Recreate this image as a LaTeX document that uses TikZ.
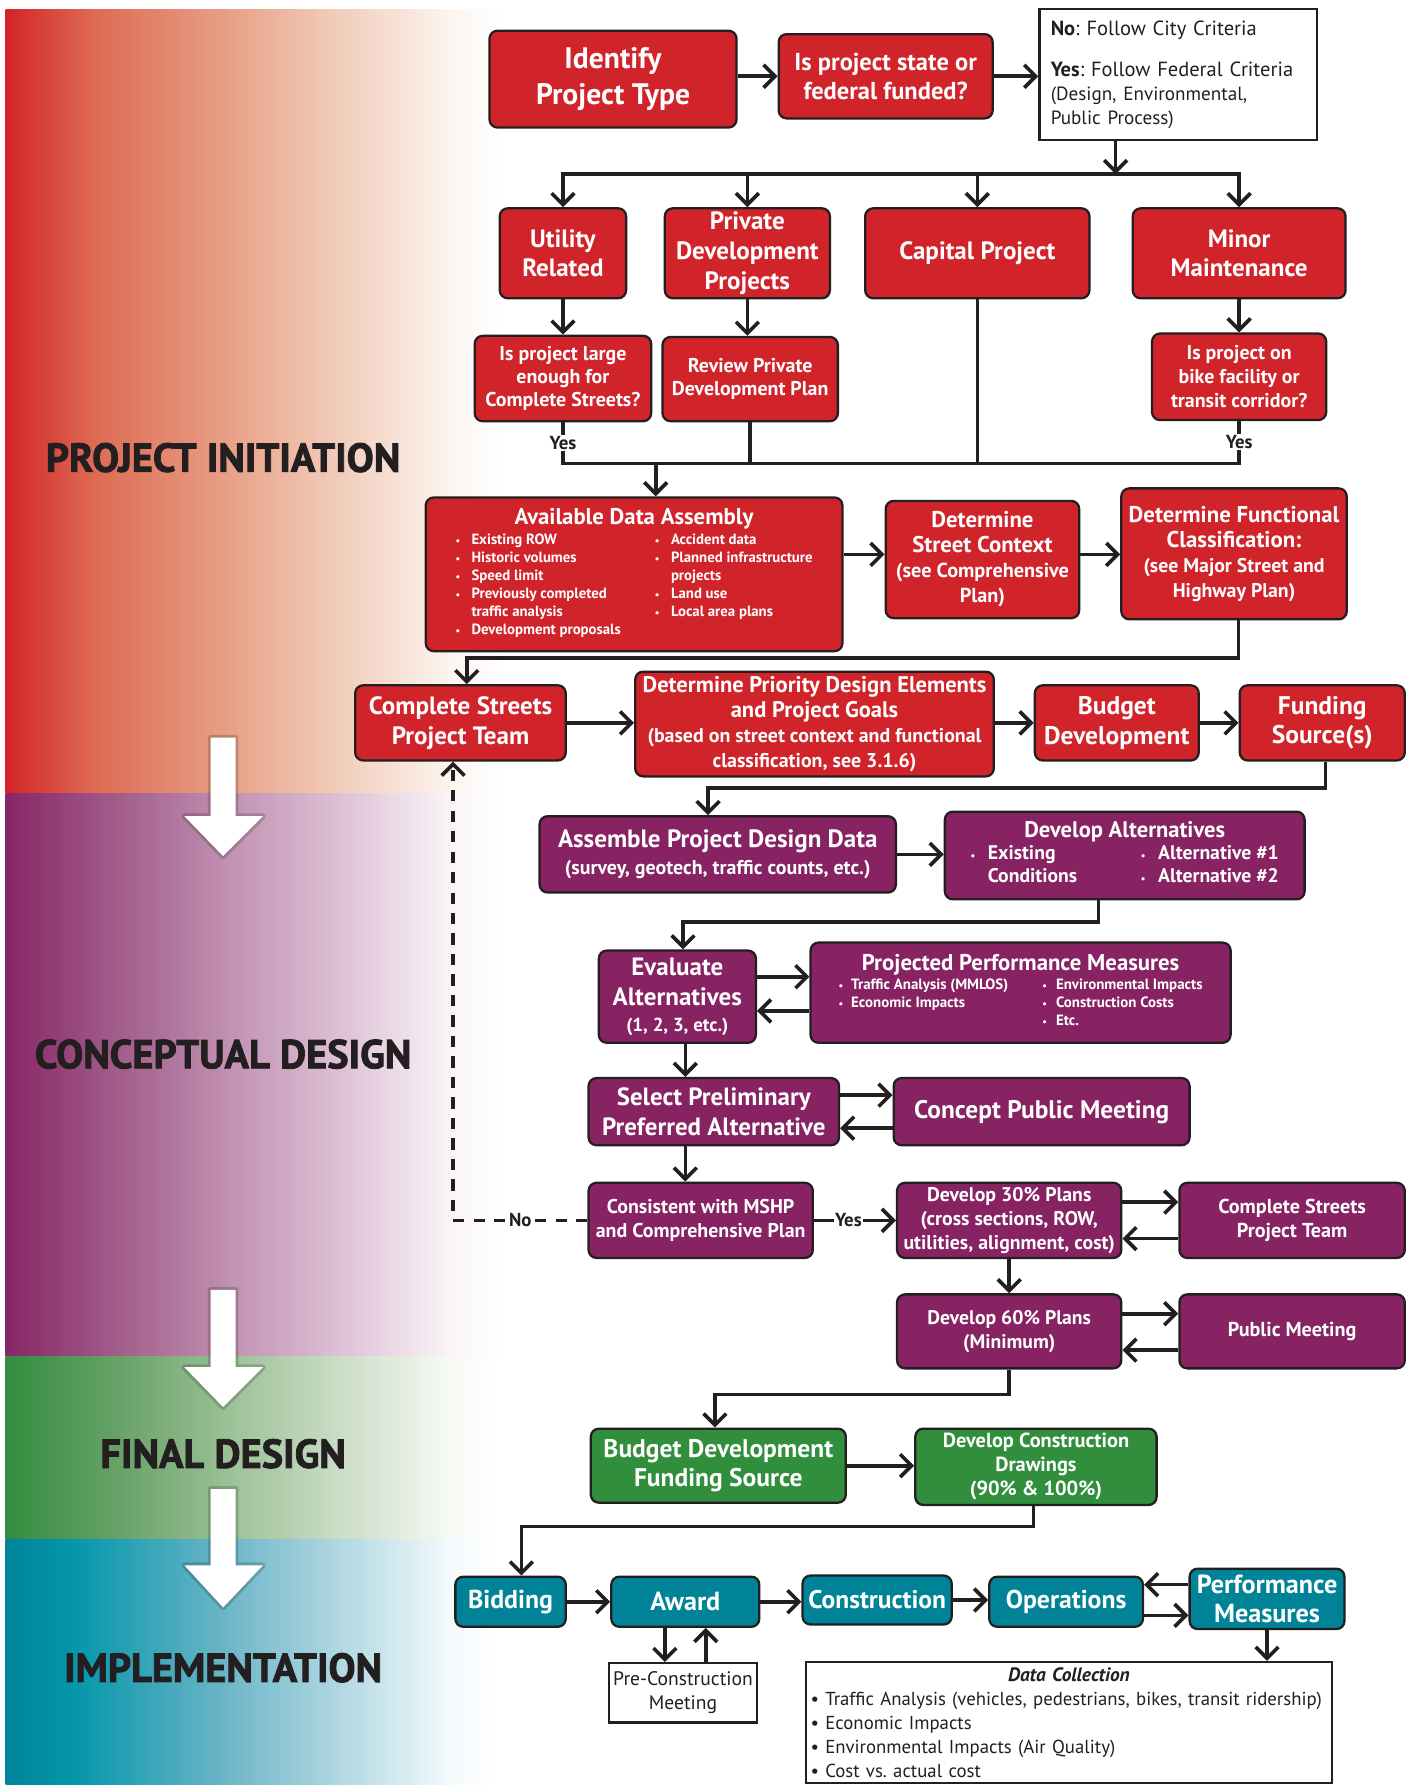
\documentclass[tikz,border=0pt]{standalone}
\usepackage{fontspec}
\setmainfont{PT Sans}
\newfontfamily\stagefont[BoldFeatures={FakeBold=2}]{PT Sans}
\usetikzlibrary{arrows.meta}
\frenchspacing

\definecolor{pired}{RGB}{209,35,42}
\definecolor{cdpurple}{RGB}{135,35,98}
\definecolor{fdgreen}{RGB}{49,142,60}
\definecolor{imteal}{RGB}{0,131,150}
\definecolor{edge}{RGB}{35,31,32}

\pgfdeclarehorizontalshading{redband}{100bp}{rgb(0bp)=(0.83,0.14,0.16); rgb(25bp)=(0.83,0.14,0.16); rgb(34bp)=(0.87,0.42,0.33); rgb(47bp)=(0.91,0.62,0.52); rgb(59bp)=(0.95,0.81,0.74); rgb(70bp)=(0.99,0.96,0.94); rgb(75bp)=(1,1,1); rgb(100bp)=(1,1,1)}
\pgfdeclarehorizontalshading{purpleband}{100bp}{rgb(0bp)=(0.53,0.15,0.40); rgb(25bp)=(0.53,0.15,0.40); rgb(36bp)=(0.63,0.36,0.54); rgb(47bp)=(0.75,0.56,0.69); rgb(59bp)=(0.87,0.76,0.84); rgb(70bp)=(0.98,0.96,0.97); rgb(75bp)=(1,1,1); rgb(100bp)=(1,1,1)}
\pgfdeclarehorizontalshading{greenband}{100bp}{rgb(0bp)=(0.20,0.55,0.25); rgb(25bp)=(0.20,0.55,0.25); rgb(36bp)=(0.40,0.63,0.40); rgb(47bp)=(0.60,0.75,0.58); rgb(59bp)=(0.80,0.87,0.78); rgb(70bp)=(0.97,0.98,0.96); rgb(75bp)=(1,1,1); rgb(100bp)=(1,1,1)}
\pgfdeclarehorizontalshading{tealband}{100bp}{rgb(0bp)=(0.0,0.52,0.60); rgb(25bp)=(0.0,0.52,0.60); rgb(32bp)=(0.02,0.59,0.67); rgb(47bp)=(0.42,0.71,0.78); rgb(59bp)=(0.70,0.85,0.89); rgb(70bp)=(0.96,0.98,0.99); rgb(75bp)=(1,1,1); rgb(100bp)=(1,1,1)}

\newcommand{\fs}[2]{\fontsize{#1}{#2}\selectfont}
\newcommand{\bl}{{\fs{9}{9}\textbullet}}

\begin{document}
\begin{tikzpicture}[x=1pt, y=-1pt,
    box/.style={draw=edge, line width=2pt, rounded corners=7pt, align=center, text=white, inner sep=2pt},
    pibox/.style={box, fill=pired},
    cdbox/.style={box, fill=cdpurple},
    fdbox/.style={box, fill=fdgreen},
    imbox/.style={box, fill=imteal},
    wbox/.style={draw=edge, line width=2pt, fill=white, align=center, text=edge, inner sep=2pt},
    dims/.style 2 args={minimum width=#1, minimum height=#2},
    fnt/.style 2 args={font=\fs{#1}{#2}\bfseries},
    conn/.style={draw=edge, line width=3.2pt},
    arr/.style={conn, -{Straight Barb[length=10pt, width=20pt]}},
    lbl/.style={font=\fs{16.5}{16.5}\bfseries, text=edge, fill=white, inner sep=1pt},
    stage/.style={font=\stagefont\fs{35.5}{36}\bfseries, text=edge}]
    \useasboundingbox (0,0) rectangle (1240,1568);

    % phase bands
    \shade[shading=redband] (5,8) rectangle (440,697);
    \shade[shading=purpleband] (5,697) rectangle (440,1192);
    \shade[shading=greenband] (5,1192) rectangle (440,1352);
    \shade[shading=tealband] (5,1352) rectangle (440,1568);

    \foreach \ya/\yb/\yc in {648/717/752, 1133/1201/1236, 1308/1375/1412}{
        \draw[black, opacity=.18, line width=5pt, line join=round] (185,\ya) -- (207,\ya) -- (207,\yb) -- (231,\yb) -- (196,\yc) -- (162,\yb) -- (185,\yb) -- cycle;
        \fill[white] (185,\ya) -- (207,\ya) -- (207,\yb) -- (231,\yb) -- (196,\yc) -- (162,\yb) -- (185,\yb) -- cycle;
    }

    \node[stage] (tpi) at (196,402) {PROJECT INITIATION};
    \node[stage] (tcd) at (196,926) {CONCEPTUAL DESIGN};
    \node[stage] (tfd) at (196,1277) {FINAL DESIGN};
    \node[stage] (tim) at (196,1465) {IMPLEMENTATION};

    % project initiation
    \node[pibox, dims={217}{85}, fnt={26}{31}] (idt) at (538.5,69.5) {Identify\\Project Type};
    \node[pibox, dims={188}{74}, fnt={21.5}{26}] (fund) at (778,67) {Is project state or\\federal funded?};
    \node[wbox, dims={244}{115}, text width=224, align=left, font=\fs{18}{21}] (crit) at (1035,65.5)
        {\textbf{No}: Follow City Criteria\\[15pt]\textbf{Yes}: Follow Federal Criteria\\{\fs{16.8}{20}(Design, Environmental,}\\{\fs{16.8}{20}Public Process)}};

    \node[pibox, dims={111}{79}, fnt={22}{26}] (util) at (494.5,222.5) {Utility\\Related};
    \node[pibox, dims={145}{79}, fnt={22}{26}] (priv) at (656.5,222.5) {Private\\Development\\Projects};
    \node[pibox, dims={197}{79}, fnt={22}{26}] (cap) at (858.5,222.5) {Capital Project};
    \node[pibox, dims={187}{79}, fnt={22}{26}] (minor) at (1088.5,222.5) {Minor\\Maintenance};

    \node[pibox, dims={155}{75}, fnt={17.5}{20.5}] (large) at (494.5,332.5) {Is project large\\enough for\\Complete Streets?};
    \node[pibox, dims={154}{74}, fnt={17.5}{20}] (review) at (659,333) {Review Private\\Development Plan};
    \node[pibox, dims={153}{76}, fnt={17.5}{21}] (bike) at (1088.5,331) {Is project on\\bike facility or\\transit corridor?};

    \node[pibox, dims={366}{135}, fnt={13}{15.8}] (ada) at (557,504.5)
        {{\fs{20}{22}Available Data Assembly}\\[1pt]
        \begin{tabular}{@{}l@{\hspace{10pt}}l@{\hspace{30pt}}l@{\hspace{10pt}}l@{}}
        \bl & Existing ROW & \bl & Accident data\\
        \bl & Historic volumes & \bl & Planned infrastructure\\
        \bl & Speed limit & & projects\\
        \bl & Previously completed & \bl & Land use\\
        & traffic analysis & \bl & Local area plans\\
        \bl & Development proposals & &
        \end{tabular}};
    \node[pibox, dims={170}{103}, fnt={20}{22}] (dsc) at (863,491.5) {Determine\\Street Context\\{\fs{17.8}{22}(see Comprehensive}\\{\fs{17.8}{22}Plan)}};
    \node[pibox, dims={198}{115}, fnt={20}{22}] (dfc) at (1084,486.5) {Determine Functional\\Classification:\\{\fs{17.4}{22}(see Major Street and}\\{\fs{17.4}{22}Highway Plan)}};

    \node[pibox, dims={185}{66}, fnt={22}{26}] (cst) at (404.5,635) {Complete Streets\\Project Team};
    \node[pibox, dims={315}{92}, fnt={19.8}{22}] (dpd) at (715.5,636) {Determine Priority Design Elements\\and Project Goals\\{\fs{17.5}{22}(based on street context and functional}\\{\fs{17.5}{22}classification, see 3.1.6)}};
    \node[pibox, dims={144}{66}, fnt={22.4}{26}] (bud) at (981,635) {Budget\\Development};
    \node[pibox, dims={145}{66}, fnt={22.4}{26}] (fsrc) at (1161.5,635) {Funding\\Source(s)};

    % conceptual design
    \node[cdbox, dims={313}{67}, fnt={22}{23}] (apd) at (630.5,750.5) {Assemble Project Design Data\\{\fs{17.5}{23}(survey, geotech, traffic counts, etc.)}};
    \node[cdbox, dims={316}{77}, fnt={17.3}{20}] (dalt) at (988,751.5)
        {{\fs{19.8}{20}Develop Alternatives}\\
        \begin{tabular}{@{}l@{\hspace{11pt}}l@{\hspace{56pt}}l@{\hspace{11pt}}l@{}}
        \bl & Existing & \bl & Alternative \#1\\
        & Conditions & \bl & Alternative \#2
        \end{tabular}};

    \node[cdbox, dims={138}{81}, fnt={22}{26}] (evl) at (595,875.5) {Evaluate\\Alternatives\\[-3pt]{\fs{16.6}{22}(1, 2, 3, etc.)}};
    \node[cdbox, dims={369}{88}, fnt={13.1}{16}] (ppm) at (896.5,872)
        {{\fs{20}{20}Projected Performance Measures}\\
        \begin{tabular}{@{}l@{\hspace{7pt}}l@{\hspace{30pt}}l@{\hspace{8pt}}l@{}}
        \bl & Traffic Analysis (MMLOS) & \bl & Environmental Impacts\\
        \bl & Economic Impacts & \bl & Construction Costs\\
        & & \bl & Etc.
        \end{tabular}};

    \node[cdbox, dims={220}{59}, fnt={21.9}{26}] (sel) at (627,976.5) {Select Preliminary\\Preferred Alternative};
    \node[cdbox, dims={260}{59}, fnt={22.3}{26}] (cpm) at (915,976.5) {Concept Public Meeting};

    \node[cdbox, dims={197}{66}, fnt={17.5}{21}] (cons) at (615.5,1072) {Consistent with MSHP\\and Comprehensive Plan};
    \node[cdbox, dims={197}{66}, fnt={17.4}{21}] (d30) at (886.5,1072) {Develop 30\% Plans\\(cross sections, ROW,\\utilities, alignment, cost)};
    \node[cdbox, dims={198}{66}, fnt={17.7}{21}] (cst2) at (1135,1072) {Complete Streets\\Project Team};

    \node[cdbox, dims={197}{65}, fnt={17.3}{21}] (d60) at (886.5,1169.5) {Develop 60\% Plans\\(Minimum)};
    \node[cdbox, dims={198}{65}, fnt={17.7}{21}] (pm) at (1135,1169.5) {Public Meeting};

    % final design
    \node[fdbox, dims={224}{65}, fnt={22.4}{26}] (bfs) at (631,1287.5) {Budget Development\\Funding Source};
    \node[fdbox, dims={212}{67}, fnt={17.9}{21}] (dcd) at (910,1288.5) {Develop Construction\\Drawings\\(90\% \& 100\%)};

    % implementation
    \node[imbox, dims={97}{44}, fnt={22.7}{24}] (bid) at (448.5,1407) {Bidding};
    \node[imbox, dims={130}{44}, fnt={23}{24}] (awd) at (602,1407) {Award};
    \node[imbox, dims={131}{43}, fnt={22.4}{24}] (con) at (770.5,1405.5) {Construction};
    \node[imbox, dims={135}{44}, fnt={22.6}{24}] (ops) at (936.5,1407) {Operations};
    \node[imbox, dims={136}{53}, fnt={23}{25}] (perf) at (1113,1404.5) {Performance\\Measures};

    \node[wbox, dims={130}{52}, font=\fs{17.2}{21}] (pre) at (600,1487) {Pre-Construction\\Meeting};
    \node[wbox, dims={462}{106}, text width=454, align=left, font=\fs{16.5}{21}] (dcol) at (939,1513)
        {\makebox[454pt]{\fs{17}{21}\bfseries\itshape Data Collection}\\
        \mbox{\textbullet{} Traffic Analysis (vehicles, pedestrians, bikes, transit ridership)}\\
        \textbullet{} Economic Impacts\\
        \textbullet{} Environmental Impacts (Air Quality)\\
        \textbullet{} Cost vs.\ actual cost};

    % connectors
    \draw[arr] (idt.east |- fund) -- (fund.west);
    \draw[arr] (fund.east) -- (fund.east -| crit.west);
    \coordinate (bus1) at (980,153);
    \draw[arr] (bus1 |- crit.south) -- (bus1);
    \draw[arr] (bus1) -| (util.north);
    \draw[arr] (bus1) -| (minor.north);
    \draw[arr] (priv.north |- bus1) -- (priv.north);
    \draw[arr] (cap.north |- bus1) -- (cap.north);

    \draw[arr] (util) -- (large);
    \draw[arr] (priv.south) -- (priv.south |- review.north);
    \draw[arr] (minor) -- (bike);

    \coordinate (bus2) at (576,407);
    \draw[conn] (large.south) -- node[lbl] (yes1) {Yes} (large.south |- bus2) -- (bike.south |- bus2) -- node[lbl] (yes2) {Yes} (bike.south);
    \draw[conn] (review.south) -- (review.south |- bus2);
    \draw[conn] (cap.south) -- (cap.south |- bus2);
    \draw[arr] (bus2) -- (bus2 |- ada.north);

    \coordinate (r4) at (0,487);
    \draw[arr] (ada.east |- r4) -- (dsc.west |- r4);
    \draw[arr] (dsc.east |- r4) -- (dfc.west |- r4);
    \coordinate (j1) at (410,578);
    \draw[arr] ([xshift=4pt]dfc.south) |- (j1) -- (j1 |- cst.north);

    \draw[arr] (cst.east) -- (cst.east -| dpd.west);
    \draw[arr] (dpd.east |- bud) -- (bud.west);
    \draw[arr] (bud) -- (fsrc);
    \coordinate (j2) at (622,692);
    \draw[arr] ([xshift=3pt]fsrc.south) |- (j2) -- (j2 |- apd.north);

    \draw[arr] (apd.east) -- (apd.east -| dalt.west);
    \coordinate (j3) at (600,810);
    \draw[arr] ([xshift=-23pt]dalt.south) |- (j3) -- (j3 |- evl.north);
    \coordinate (a1) at (0,858);
    \coordinate (a2) at (0,888);
    \draw[arr] (evl.east |- a1) -- (ppm.west |- a1);
    \draw[arr] (ppm.west |- a2) -- (evl.east |- a2);
    \coordinate (k1) at (602,0);
    \draw[arr] (evl.south -| k1) -- (sel.north -| k1);

    \coordinate (s1) at (0,962);
    \coordinate (s2) at (0,991);
    \draw[arr] (sel.east |- s1) -- (cpm.west |- s1);
    \draw[arr] (cpm.west |- s2) -- (sel.east |- s2);
    \draw[arr] (sel.south -| k1) -- (cons.north -| k1);

    \draw[arr] (cons.east) -- node[lbl, pos=.42] (yes3) {Yes} (cons.east -| d30.west);
    \coordinate (j4) at (398,1072);
    \draw[arr, dash pattern=on 10pt off 8pt] (cons.west) -- node[lbl] (no) {No} (j4) -- (j4 |- cst.south);

    \coordinate (p1) at (0,1056);
    \coordinate (p2) at (0,1088);
    \draw[arr] (d30.east |- p1) -- (cst2.west |- p1);
    \draw[arr] (cst2.west |- p2) -- (d30.east |- p2);
    \draw[arr] (d30) -- (d60);
    \coordinate (q1) at (0,1154);
    \coordinate (q2) at (0,1186);
    \draw[arr] (d60.east |- q1) -- (pm.west |- q1);
    \draw[arr] (pm.west |- q2) -- (d60.east |- q2);
    \coordinate (j5) at (628,1225);
    \draw[arr] (d60.south) |- (j5) -- (j5 |- bfs.north);

    \draw[arr] (bfs.east) -- (bfs.east -| dcd.west);
    \coordinate (j6) at (458,1341);
    \draw[arr] ([xshift=-2pt]dcd.south) |- (j6) -- (j6 |- bid.north);

    \draw[arr] (bid) -- (awd);
    \draw[arr] (awd.east) -- (awd.east -| con.west);
    \draw[arr] (con.east) -- (con.east -| ops.west);
    \coordinate (m1) at (0,1392);
    \coordinate (m2) at (0,1419);
    \draw[arr] (perf.west |- m1) -- (ops.east |- m1);
    \draw[arr] (ops.east |- m2) -- (perf.west |- m2);
    \coordinate (w1) at (584,0);
    \coordinate (w2) at (620,0);
    \draw[arr] (awd.south -| w1) -- (pre.north -| w1);
    \draw[arr] (pre.north -| w2) -- (awd.south -| w2);
    \draw[arr] (perf.south) -- (perf.south |- dcol.north);

\end{tikzpicture}
\end{document}
